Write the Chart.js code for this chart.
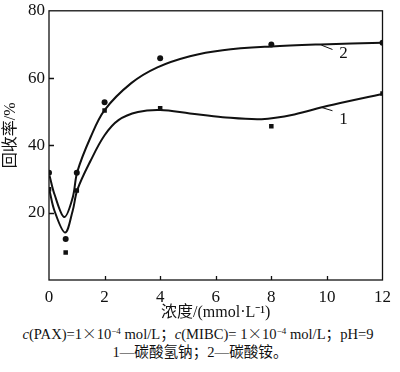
<!DOCTYPE html>
<html>
<head>
<meta charset="utf-8">
<script src="https://cdn.jsdelivr.net/npm/chart.js@4/dist/chart.umd.min.js"></script>
<style>
  html, body { margin: 0; padding: 0; background: #fff; }
  #wrap { position: relative; width: 400px; height: 372px; background: #fff; }
  #cbox { position: absolute; left: 0; top: 0; width: 400px; height: 322px; }
  .cap { position: absolute; left: 0; width: 400px; text-align: center;
         font-family: 'Liberation Serif', 'Noto Sans CJK SC', serif; font-size: 14.6px; color: #111; white-space: nowrap; }
  .cap sup { font-size: 9px; vertical-align: 5px; line-height: 0; }
  .cap .cjk { font-family: 'Noto Sans CJK SC', sans-serif; font-weight: 300; }
</style>
</head>
<body>
<div id="wrap">
  <div id="cbox"><canvas id="c"></canvas></div>
  <div class="cap" style="top:322px;left:-2px;"><i>c</i>(PAX)=1<span class="cjk">×</span>10<sup>−4</sup> mol/L；<i>c</i>(MIBC)= 1<span class="cjk">×</span>10<sup>−4</sup> mol/L；pH=9</div>
  <div class="cap" style="top:340px;">1—碳酸氢钠；2—碳酸铵。</div>
</div>
<script>
// Measured points
const xPoints = [0, 0.6, 1, 2, 4, 8, 12];
const series1 = [27, 8.2, 26.6, 50.4, 51, 45.7, 55.4];   // 1 — 碳酸氢钠 (squares)
const series2 = [31.9, 12.2, 31.9, 52.8, 65.9, 70, 70.5]; // 2 — 碳酸铵 (circles)

// Fitted curves
const fit1X = [0.02, 0.2, 0.58, 0.85, 1.02, 1.5, 2.0, 2.5, 3.2, 4.0, 5.07, 6.25, 7.65, 8.83, 10, 12];
const fit1Y = [26.5, 20.5, 14.1, 20.5, 26.8, 35.5, 43, 47.5, 49.9, 50.5, 49.5, 48.4, 47.8, 49.2, 51.7, 55.3];
const fit2X = [0.02, 0.2, 0.55, 0.85, 1.02, 1.5, 2.0, 2.96, 3.9, 5.07, 6.25, 8.0, 9.77, 12];
const fit2Y = [31, 25.4, 18.7, 24.4, 32.2, 42.5, 50.5, 58.5, 63.2, 66.5, 68.3, 69.4, 70, 70.5];

// Axis ticks
const xTicks = [0, 2, 4, 6, 8, 10, 12];
const yTicks = [20, 40, 60, 80];

// Curve labels (data coords): label text, label pos, leader start, leader end
const curveLabels = ['1', '2'];
const labelX = [10.6, 10.6];
const labelY = [47.8, 67.2];
const leaderFromX = [9.8, 9.8];
const leaderFromY = [51.3, 69.8];
const leaderToX = [10.2, 10.2];
const leaderToY = [50.3, 68.5];

const SERIF = "Liberation Serif";
const SERIF_CJK = "'Liberation Serif', 'Noto Sans CJK SC', serif";

const pts = (xs, ys) => xs.map((x, i) => ({ x, y: ys[i] }));

const decor = {
  id: 'decor',
  afterDatasetsDraw(chart) {
    const { ctx, chartArea: a, scales: { x, y } } = chart;
    ctx.save();
    ctx.strokeStyle = '#111';
    ctx.lineWidth = 1.3;
    ctx.strokeRect(a.left, a.top, a.right - a.left, a.bottom - a.top);
    ctx.beginPath();
    xTicks.forEach(v => {
      if (v === xTicks[0] || v === xTicks[xTicks.length - 1]) return;
      const px = Math.round(x.getPixelForValue(v)) + 0.5;
      ctx.moveTo(px, a.bottom); ctx.lineTo(px, a.bottom - 4);
    });
    yTicks.forEach(v => {
      if (v === yTicks[yTicks.length - 1]) return;
      const py = Math.round(y.getPixelForValue(v)) + 0.5;
      ctx.moveTo(a.left, py); ctx.lineTo(a.left + 5, py);
    });
    ctx.stroke();
    ctx.lineWidth = 1;
    ctx.fillStyle = '#111';
    ctx.font = "17px 'Liberation Serif'";
    ctx.textAlign = 'center';
    ctx.textBaseline = 'middle';
    curveLabels.forEach((t, i) => {
      ctx.beginPath();
      ctx.moveTo(x.getPixelForValue(leaderFromX[i]), y.getPixelForValue(leaderFromY[i]));
      ctx.lineTo(x.getPixelForValue(leaderToX[i]), y.getPixelForValue(leaderToY[i]));
      ctx.stroke();
      ctx.fillText(t, x.getPixelForValue(labelX[i]), y.getPixelForValue(labelY[i]));
    });
    ctx.restore();
  }
};

function build() {
  new Chart(document.getElementById('c'), {
    type: 'scatter',
    data: {
      datasets: [
        { label: '1 fit', type: 'line', data: pts(fit1X, fit1Y), borderColor: '#111', borderWidth: 2,
          pointRadius: 0, tension: 0.35, fill: false },
        { label: '2 fit', type: 'line', data: pts(fit2X, fit2Y), borderColor: '#111', borderWidth: 2,
          pointRadius: 0, tension: 0.35, fill: false },
        { label: '1—碳酸氢钠', data: pts(xPoints, series1), pointStyle: 'rect', pointRadius: 3.2,
          backgroundColor: '#111', borderColor: '#111', borderWidth: 0 },
        { label: '2—碳酸铵', data: pts(xPoints, series2), pointStyle: 'circle', pointRadius: 3,
          backgroundColor: '#111', borderColor: '#111', borderWidth: 0 }
      ]
    },
    options: {
      responsive: true,
      maintainAspectRatio: false,
      animation: false,
      devicePixelRatio: 1,
      layout: { padding: { left: 0, top: 7, right: 10, bottom: 0 } },
      plugins: { legend: { display: false }, tooltip: { enabled: false } },
      scales: {
        x: {
          type: 'linear', min: 0, max: 12,
          afterBuildTicks: s => { s.ticks = xTicks.map(v => ({ value: v })); },
          afterFit: s => { s.height = 42; },
          grid: { display: false, drawTicks: false },
          border: { display: false },
          ticks: { color: '#111', font: { family: SERIF, size: 17, lineHeight: 1 }, padding: 9, maxRotation: 0 },
          title: { display: true, text: '浓度/(mmol·L⁻¹)', color: '#111',
                   font: { family: SERIF_CJK, size: 16, lineHeight: 1.2 }, padding: { top: 0, bottom: 0 } }
        },
        y: {
          type: 'linear', min: 0, max: 80,
          afterBuildTicks: s => { s.ticks = yTicks.map(v => ({ value: v })); },
          afterFit: s => { s.width = 49; },
          grid: { display: false, drawTicks: false },
          border: { display: false },
          ticks: { color: '#111', font: { family: SERIF, size: 17, lineHeight: 0.8 }, padding: 4 },
          title: { display: true, text: '\u00A0\u00A0\u00A0\u00A0\u00A0回收率/%', color: '#111',
                   font: { family: SERIF_CJK, size: 16, lineHeight: 1.2 }, padding: { top: 1, bottom: 0 } }
        }
      }
    },
    plugins: [decor]
  });
}

Promise.all([
  document.fonts.load("17px 'Liberation Serif'"),
  document.fonts.load("16px 'Noto Sans CJK SC'", '回收率浓度×')
]).then(build, build);
</script>
</body>
</html>
